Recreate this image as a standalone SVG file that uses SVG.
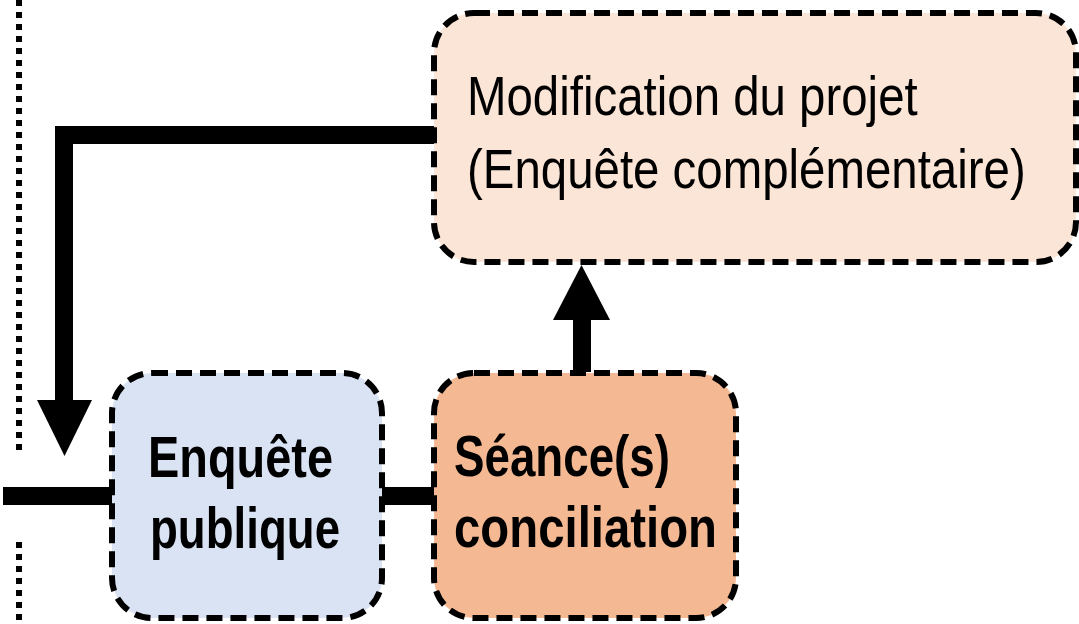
<svg xmlns="http://www.w3.org/2000/svg" width="1079" height="624" viewBox="0 0 1079 624">
<style>
.box{stroke:#000;stroke-width:6;stroke-dasharray:16 8}
.reg{font-family:"Liberation Sans",Arial,sans-serif;font-size:56px;fill:#000}
.bold{font-family:"Liberation Sans",Arial,sans-serif;font-size:57px;font-weight:bold;fill:#000}
.conn{fill:none;stroke:#000;stroke-width:18}
.dot{fill:none;stroke:#000;stroke-width:6;stroke-dasharray:6 6}
</style>
<g id="dotted">
<line class="dot" x1="19" y1="0" x2="19" y2="456"/>
<line class="dot" x1="19" y1="542" x2="19" y2="624"/>
</g>
<g id="connectors">
<path class="conn" d="M435 135 H64 V402"/>
<polygon points="37,400 92,400 64.5,456" fill="#000"/>
<line class="conn" x1="3" y1="496" x2="112" y2="496"/>
<line class="conn" x1="381" y1="496" x2="434" y2="496"/>
<line class="conn" x1="582" y1="372" x2="582" y2="318"/>
<polygon points="553,320 610,320 581.5,265" fill="#000"/>
</g>
<g id="modification">
<rect class="box" x="434" y="13" width="642" height="249" rx="40" fill="#fbe5d6"/>
<g transform="translate(467,0) scale(0.847,1)">
<text class="reg" x="0" y="115">Modification du projet</text>
<text class="reg" x="0" y="188">(Enquête complémentaire)</text>
</g>
</g>
<g id="enquete">
<rect class="box" x="112" y="373" width="270" height="245" rx="40" fill="#dae3f3"/>
<text class="bold" x="148" y="477" textLength="185" lengthAdjust="spacingAndGlyphs">Enquête</text>
<text class="bold" x="150" y="548" textLength="190" lengthAdjust="spacingAndGlyphs">publique</text>
</g>
<g id="seance">
<rect class="box" x="434" y="373" width="302" height="245" rx="40" fill="#f4b993"/>
<text class="bold" x="454" y="476" textLength="216" lengthAdjust="spacingAndGlyphs">Séance(s)</text>
<text class="bold" x="454" y="547" textLength="263" lengthAdjust="spacingAndGlyphs">conciliation</text>
</g>
</svg>
